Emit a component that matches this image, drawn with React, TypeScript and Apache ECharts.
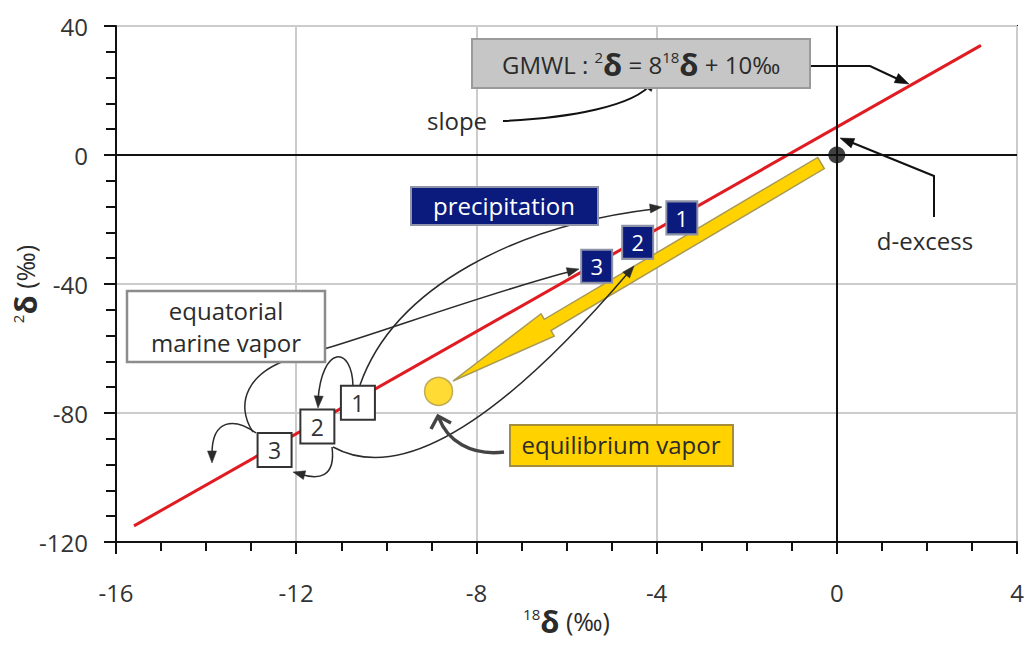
import React, { useEffect, useRef } from 'react';
import * as echarts from 'echarts';

// ---- data ----
const xTicks = [-16, -12, -8, -4, 0, 4];
const yTicks = [-120, -80, -40, 0, 40];
const gmwlLine = [[-15.6, -115], [3.2, 34]];
const originPoint = [[0, 0]];
const equilibriumVapor = [[-8.84, -73.3]];
const marineVaporSteps = [[-10.63, -76.8], [-11.53, -84.2], [-12.48, -91.5]];
const marineVaporLabels = ['1', '2', '3'];
const precipitationSteps = [[-3.44, -19.5], [-4.42, -27.1], [-5.33, -34.5]];
const precipitationLabels = ['1', '2', '3'];

const FONT = '"Open Sans", "Noto Sans", sans-serif';
const INK = '#2b2b2b';

type P = [number, number];

function head(tip: P, from: P, len = 12, half = 4.5, color = INK, z = 6) {
  const dx = tip[0] - from[0];
  const dy = tip[1] - from[1];
  const L = Math.hypot(dx, dy) || 1;
  const ux = dx / L, uy = dy / L;
  const bx = tip[0] - ux * len, by = tip[1] - uy * len;
  return {
    type: 'polygon', z, silent: true,
    shape: { points: [[tip[0], tip[1]], [bx - uy * half, by + ux * half], [bx + uy * half, by - ux * half]] },
    style: { fill: color, stroke: color, lineWidth: 0.5 },
  };
}

function curve(p0: P, c1: P, c2: P, p3: P, w = 1.5, color = INK) {
  return {
    type: 'bezierCurve', z: 5, silent: true,
    shape: { x1: p0[0], y1: p0[1], cpx1: c1[0], cpy1: c1[1], cpx2: c2[0], cpy2: c2[1], x2: p3[0], y2: p3[1] },
    style: { stroke: color, lineWidth: w, fill: null },
  };
}

function poly(points: P[], w = 2, color = '#111') {
  return {
    type: 'polyline', z: 5, silent: true,
    shape: { points },
    style: { stroke: color, lineWidth: w, fill: null, lineJoin: 'miter' },
  };
}

function box(x: number, y: number, w: number, h: number, fill: string, stroke: string, lw = 2) {
  return {
    type: 'rect', z: 6, silent: true,
    shape: { x, y, width: w, height: h },
    style: { fill, stroke, lineWidth: lw },
  };
}

function label(x: number, y: number, text: string, color = INK, size = 24, align = 'center') {
  return {
    type: 'text', z: 7, silent: true, x, y,
    style: { text, fill: color, fontSize: size, fontFamily: FONT, align, verticalAlign: 'middle' },
  };
}

function yellowArrow() {
  const T: P = [453, 381];
  const E: P = [821, 163];
  const dx = E[0] - T[0], dy = E[1] - T[1];
  const L = Math.hypot(dx, dy);
  const ux = dx / L, uy = dy / L;
  const nx = -uy, ny = ux;
  const headLen = 110, hw = 13, sw = 6.5;
  const B: P = [T[0] + ux * headLen, T[1] + uy * headLen];
  const pts: P[] = [
    [E[0] - nx * sw, E[1] - ny * sw],
    [E[0] + nx * sw, E[1] + ny * sw],
    [B[0] + nx * sw, B[1] + ny * sw],
    [B[0] + nx * hw, B[1] + ny * hw],
    T,
    [B[0] - nx * hw, B[1] - ny * hw],
    [B[0] - nx * sw, B[1] - ny * sw],
  ];
  return {
    type: 'polygon', z: 3, silent: true,
    shape: { points: pts },
    style: { fill: '#FFD200', stroke: '#A89A55', lineWidth: 1.5 },
  };
}

const SUP = { fontSize: 15, lineHeight: 20, verticalAlign: 'top', fill: INK, color: INK, fontFamily: FONT };
const DEL = { fontSize: 31, lineHeight: 30, fontWeight: 'bold', fill: INK, color: INK, fontFamily: FONT };
const NRM = { fontSize: 24, lineHeight: 30, fill: INK, color: INK, fontFamily: FONT };
const NAME_N = { fontSize: 25, lineHeight: 30, color: INK, fontFamily: FONT };

export default function App() {
  const ref = useRef<HTMLDivElement>(null);

  useEffect(() => {
    document.body.style.margin = '0';
    if (!ref.current) return;
    const chart = echarts.init(ref.current, undefined, { renderer: 'svg' });

    const graphics: any[] = [
      yellowArrow(),
      // slope pointer
      curve([503, 121], [570, 118], [635, 106], [652, 83], 2, '#111'),
      head([655, 78], [636, 104], 13, 5, '#111'),
      // GMWL pointer
      poly([[810, 66], [870, 66], [902, 81]], 2, '#111'),
      head([909, 84], [870, 66], 14, 5, '#111'),
      // d-excess pointer
      poly([[934, 217], [934, 176], [848, 141]], 2, '#111'),
      head([840, 138], [934, 176], 14, 5, '#111'),
      // precipitation path 1
      curve([360, 385], [395, 285], [520, 225], [654, 209]),
      head([662, 207], [520, 224]),
      // path 3
      curve([253, 432], [235, 405], [245, 370], [300, 356]),
      curve([300, 356], [355, 342], [480, 295], [572, 271]),
      head([579, 269], [480, 295]),
      // path 2
      curve([333, 447], [420, 495], [545, 370], [628, 273]),
      head([634, 266], [545, 370]),
      // loops between marine vapor steps
      curve([353, 386], [352, 345], [322, 345], [318, 400]),
      head([318, 408], [321, 360]),
      curve([256, 433], [235, 418], [212, 418], [212, 454]),
      head([212, 463], [212, 425]),
      curve([332, 447], [336, 478], [318, 480], [300, 474]),
      head([293, 472], [315, 478]),
      // equilibrium vapor pointer
      curve([504, 452], [470, 456], [447, 440], [439, 418], 3.5, '#444'),
      poly([[431, 429], [438, 416], [451, 423]], 3.5, '#444'),
      // boxes
      box(472, 39, 338, 49, '#C6C6C6', '#9A9A9A', 2),
      {
        type: 'text', z: 7, silent: true, x: 502, y: 64,
        style: {
          text: '{n|GMWL : }{s|2}{d|δ}{n| = 8}{s|18}{d|δ}{n| + 10‰}',
          rich: { n: NRM, s: SUP, d: DEL },
          fill: INK, fontSize: 24, fontFamily: FONT, align: 'left', verticalAlign: 'middle',
        },
      },
      label(457, 120, 'slope'),
      label(925, 240, 'd-excess'),
      box(411, 187, 187, 38, '#0B1A7D', '#9094A8', 2),
      label(504, 205, 'precipitation', '#ffffff'),
      box(127, 291, 198, 71, '#ffffff', '#8C8C8C', 2.5),
      label(226, 310, 'equatorial'),
      label(226, 342, 'marine vapor'),
      box(510, 425, 223, 41, '#FFD200', '#A58E3A', 2),
      label(621, 444, 'equilibrium vapor'),
    ];

    const option: any = {
      animation: false,
      backgroundColor: '#ffffff',
      textStyle: { fontFamily: FONT },
      grid: {
        left: 116, right: 10, top: 26, bottom: 108,
        containLabel: false, outerBoundsMode: 'none',
        show: true, borderColor: '#111', borderWidth: 2, backgroundColor: 'transparent',
      },
      xAxis: {
        type: 'value',
        min: xTicks[0], max: xTicks[xTicks.length - 1], interval: xTicks[1] - xTicks[0],
        name: '{s|18}{d|δ}{n| (‰)}',
        nameLocation: 'middle', nameGap: 64, nameMoveOverlap: false,
        nameTextStyle: { fontSize: 25, color: INK, fontFamily: FONT, rich: { s: SUP, d: DEL, n: NAME_N } },
        axisLine: { show: true, onZero: false, lineStyle: { color: '#111', width: 2 } },
        axisTick: { show: true, inside: false, length: 12, lineStyle: { color: '#111', width: 2 } },
        minorTick: { show: true, splitNumber: 4, length: 9, lineStyle: { color: '#111', width: 2 } },
        axisLabel: { color: '#333', fontSize: 24, margin: 38, fontFamily: FONT },
        splitLine: { show: true, lineStyle: { color: '#CCCCCC', width: 2 } },
      },
      yAxis: {
        type: 'value',
        min: yTicks[0], max: yTicks[yTicks.length - 1], interval: yTicks[1] - yTicks[0],
        name: '{s|2}{d|δ}{n| (‰)}',
        nameLocation: 'middle', nameGap: 76, nameRotate: 90, nameMoveOverlap: false,
        nameTextStyle: { fontSize: 25, color: INK, fontFamily: FONT, rich: { s: SUP, d: DEL, n: NAME_N } },
        axisLine: { show: true, onZero: false, lineStyle: { color: '#111', width: 2 } },
        axisTick: { show: true, inside: false, length: 12, lineStyle: { color: '#111', width: 2 } },
        minorTick: { show: true, splitNumber: 5, length: 10, lineStyle: { color: '#111', width: 2 } },
        axisLabel: { color: '#333', fontSize: 24, margin: 28, fontFamily: FONT },
        splitLine: { show: true, lineStyle: { color: '#CCCCCC', width: 2 } },
      },
      graphic: { elements: graphics },
      series: [
        {
          type: 'line', data: [], z: 1, silent: true,
          markLine: {
            silent: true, symbol: ['none', 'none'], label: { show: false },
            lineStyle: { color: '#111', width: 2, type: 'solid' },
            emphasis: { disabled: true },
            data: [{ xAxis: originPoint[0][0] }, { yAxis: originPoint[0][1] }],
          },
        },
        {
          type: 'line', data: gmwlLine, z: 2, silent: true, showSymbol: false, symbol: 'none',
          lineStyle: { color: '#E01B22', width: 3 },
        },
        {
          type: 'scatter', data: originPoint, z: 10, silent: true,
          symbol: 'circle', symbolSize: 17, itemStyle: { color: '#111' },
        },
        {
          type: 'scatter', data: equilibriumVapor, z: 10, silent: true,
          symbol: 'circle', symbolSize: 28,
          itemStyle: { color: '#FFD200', borderColor: '#B09A45', borderWidth: 1.5 },
        },
        {
          type: 'scatter', z: 10, silent: true,
          data: marineVaporSteps.map((d, i) => ({ value: d, name: marineVaporLabels[i] })),
          symbol: 'rect', symbolSize: [34, 34],
          itemStyle: { color: '#ffffff', borderColor: '#333', borderWidth: 2, opacity: 1 },
          label: { show: true, position: 'inside', formatter: '{b}', color: '#333', fontSize: 23, fontFamily: FONT },
        },
        {
          type: 'scatter', z: 10, silent: true,
          data: precipitationSteps.map((d, i) => ({ value: d, name: precipitationLabels[i] })),
          symbol: 'rect', symbolSize: [31, 33],
          itemStyle: { color: '#0B1A7D', borderColor: '#8E92A6', borderWidth: 2, opacity: 1 },
          label: { show: true, position: 'inside', formatter: '{b}', color: '#ffffff', fontSize: 22, fontFamily: FONT },
        },
      ],
    };

    chart.setOption(option);
    return () => chart.dispose();
  }, []);

  return <div ref={ref} style={{ width: 1027, height: 650 }} />;
}
